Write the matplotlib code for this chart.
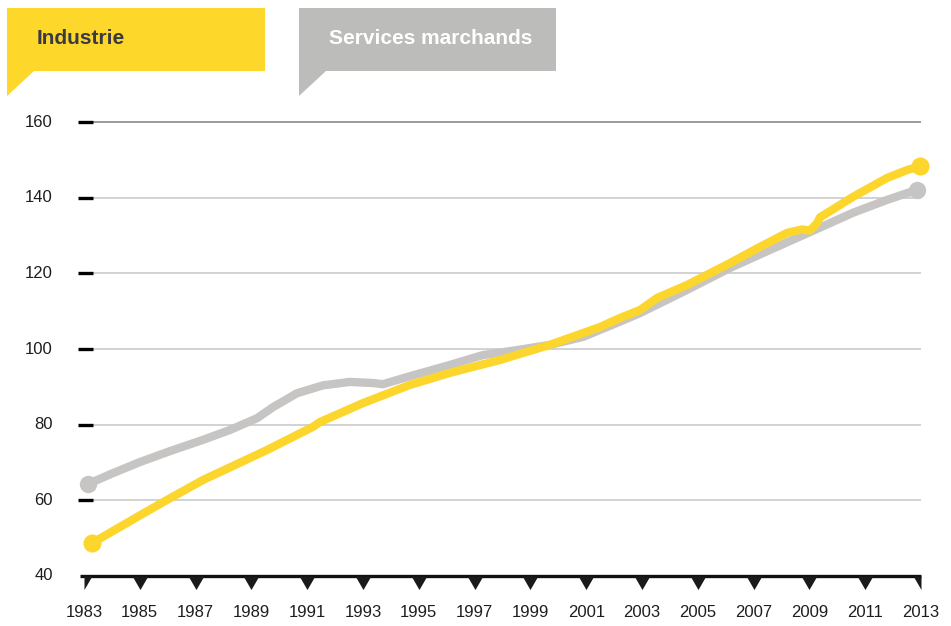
import matplotlib
matplotlib.use("Agg")
import matplotlib.pyplot as plt
from matplotlib.patches import Polygon
from matplotlib.path import Path

plt.rcParams['font.family'] = ['Liberation Sans', 'DejaVu Sans']

# Series (index, time as decimal years)
services_years = [1983.14, 1984.04, 1985.0, 1986.08, 1987.27, 1988.23, 1989.2, 1989.77,
                  1990.63, 1991.57, 1992.53, 1993.36, 1993.72, 1994.68, 1996.12, 1997.3,
                  1998.52, 1999.7, 2000.89, 2002.2, 2002.93, 2004.61, 2006.15, 2007.59,
                  2009.02, 2010.56, 2011.78, 2012.86]
services_values = [64.3, 67.2, 70.1, 73.0, 76.0, 78.6, 81.7, 84.6,
                   88.3, 90.4, 91.3, 91.0, 90.7, 92.8, 95.8, 98.4,
                   99.7, 101.1, 103.2, 107.2, 109.5, 115.6, 121.4, 126.2,
                   130.9, 136.0, 139.4, 142.1]

industrie_years = [1983.29, 1984.04, 1985.0, 1985.83, 1987.27, 1989.56, 1991.2, 1991.46,
                   1993.0, 1994.68, 1996.12, 1997.91, 1999.7, 2001.49, 2002.21, 2002.93,
                   2003.54, 2004.61, 2006.15, 2007.23, 2008.2, 2008.73, 2009.02, 2009.27,
                   2009.38, 2010.56, 2011.78, 2012.5, 2012.96]
industrie_values = [48.7, 51.9, 56.0, 59.5, 65.4, 73.3, 79.4, 80.7,
                    85.7, 90.5, 93.7, 97.1, 101.1, 105.8, 108.2, 110.3,
                    113.5, 116.9, 122.7, 127.0, 130.7, 131.6, 131.3, 133.2,
                    134.8, 140.2, 145.2, 147.3, 148.3]

y_ticks = [40, 60, 80, 100, 120, 140, 160]
x_ticks = list(range(1983, 2014, 2))
series_labels = ["Industrie", "Services marchands"]

YELLOW = "#FCD62C"
GRAY = "#C6C5C3"

W, H = 951, 626
fig = plt.figure(figsize=(W / 100, H / 100), dpi=100)
ax = fig.add_axes([84 / W, (H - 576) / H, (921 - 84) / W, (576 - 122) / H])
ax.set_xlim(1983, 2013)
ax.set_ylim(40, 160)
for s in ax.spines.values():
    s.set_visible(False)
ax.set_xticks([])
ax.set_yticks([])

px_year = (921 - 84) / 30.0  # pixels per year

# horizontal gridlines and left tick dashes
for v in y_ticks[1:]:
    col = "#8a8a8a" if v == 160 else "#cbcbcb"
    ax.plot([1983 + 9 / px_year, 2013], [v, v], color=col, lw=1.2, zorder=1,
            clip_on=False, solid_capstyle="butt")
    ax.plot([1983 - 6 / px_year, 1983 + 9 / px_year], [v, v], color="black", lw=2.4,
            zorder=2, clip_on=False, solid_capstyle="butt")
for v in y_ticks:
    ax.text(1983 - 31 / px_year, v, str(v), ha="right", va="center",
            fontsize=12, color="#1e1e1e", clip_on=False)

# bottom axis with triangle ticks
ax.plot([1983 - 4 / px_year, 2013], [40, 40], color="#111111", lw=2.4, zorder=3,
        clip_on=False, solid_capstyle="butt")
tri = Path([(-7.5, 0), (7.5, 0), (0, -13), (-7.5, 0)])
tri_left = Path([(0, 0), (7.5, 0), (0, -13), (0, 0)])
tri_right = Path([(-7.5, 0), (0, 0), (0, -13), (-7.5, 0)])
for i, yr in enumerate(x_ticks):
    if i == 0:
        m = tri_left
    elif i == len(x_ticks) - 1:
        m = tri_right
    else:
        m = tri
    ax.plot([yr], [40], marker=m, markersize=19.5, color="#1a1a1a", markeredgewidth=0,
            clip_on=False, zorder=3)
    ax.text(yr, 40 - 36 / 3.783, str(yr), ha="center", va="center", fontsize=12,
            color="#1e1e1e", clip_on=False)

# series
ax.plot(services_years, services_values, color=GRAY, lw=6, solid_capstyle="round",
        solid_joinstyle="round", zorder=4, clip_on=False)
ax.plot([services_years[0], services_years[-1]], [services_values[0], services_values[-1]],
        "o", color=GRAY, markersize=12.5, markeredgewidth=0, zorder=4, clip_on=False)
ax.plot(industrie_years, industrie_values, color=YELLOW, lw=6, solid_capstyle="round",
        solid_joinstyle="round", zorder=5, clip_on=False)
ax.plot([industrie_years[0], industrie_years[-1]], [industrie_values[0], industrie_values[-1]],
        "o", color=YELLOW, markersize=13, markeredgewidth=0, zorder=5, clip_on=False)

# legend tags (speech-bubble shapes) in figure pixel coordinates
def tag(x0, x1, color, text, tcolor):
    top, bot, tail = H - 8, H - 71, H - 96
    verts = [(x0, top), (x1, top), (x1, bot), (x0 + 27, bot), (x0, tail)]
    fig.patches.append(Polygon(verts, closed=True, transform=None, facecolor=color,
                               edgecolor="none"))
    fig.text((x0 + 30) / W, (H - 39) / H, text, ha="left", va="center", fontsize=15,
             fontweight="bold", color=tcolor)

tag(7, 265, "#FDD72A", series_labels[0], "#3a3a42")
tag(299, 556, "#BCBCBB", series_labels[1], "white")

fig.savefig("out.png", dpi=100)
